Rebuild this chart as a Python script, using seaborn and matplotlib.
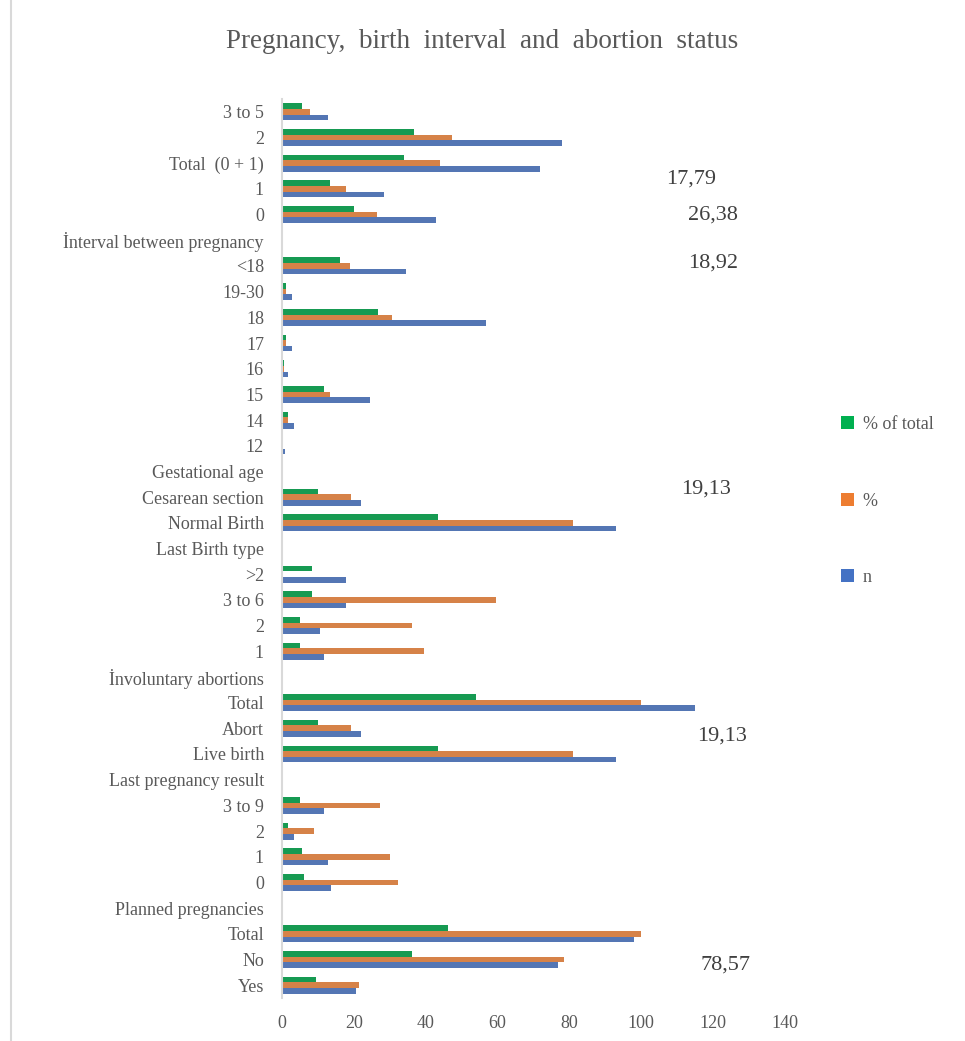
import matplotlib
matplotlib.use("Agg")
import matplotlib.pyplot as plt
from matplotlib.patches import Patch
from matplotlib.lines import Line2D
import numpy as np
import pandas as pd
import seaborn as sns

# categories, top to bottom (as drawn)
labels = ["3 to 5", "2", "Total  (0 + 1)", "1", "0", "İnterval between pregnancy",
          "<18", "19-30", "18", "17", "16", "15", "14", "12", "Gestational age",
          "Cesarean section", "Normal Birth", "Last Birth type",
          ">2", "3 to 6", "2", "1", "İnvoluntary abortions",
          "Total", "Abort", "Live birth", "Last pregnancy result",
          "3 to 9", "2", "1", "0", "Planned pregnancies",
          "Total", "No", "Yes"]

n_vals = [12.9, 78, 71.8, 28.4, 42.9, None,
          34.5, 2.9, 56.8, 2.9, 1.8, 24.6, 3.4, 0.7, None,
          22, 93, None,
          17.9, 17.9, 10.7, 11.8, None,
          115, 22, 93, None,
          11.8, 3.4, 12.9, 13.5, None,
          98, 76.9, 20.7]

pct_vals = [7.8, 47.4, 44.0, 17.8, 26.4, None,
            18.9, 1.1, 30.6, 1.1, 0.6, 13.4, 1.7, 0.3, None,
            19.13, 80.87, None,
            0, 59.6, 36.2, 39.6, None,
            100, 19.13, 80.87, None,
            27.3, 9.0, 30.1, 32.3, None,
            100, 78.57, 21.43]

pct_total_vals = [5.6, 36.8, 34.0, 13.4, 20.1, None,
                  16.2, 1.1, 26.8, 1.1, 0.6, 11.8, 1.7, 0.3, None,
                  10.1, 43.5, None,
                  8.4, 8.4, 5.1, 5.1, None,
                  54.0, 10.1, 43.5, None,
                  5.1, 1.7, 5.7, 6.2, None,
                  46.2, 36.2, 9.6]

series_names = ["% of total", "%", "n"]
series_colors = ["#00B050", "#ED7D31", "#4472C4"]

# stray data labels left in the chart: (text, x value, row index from top)
note_texts = ["17,79", "26,38", "18,92", "19,13", "19,13", "78,57"]
note_x = [114, 120, 120, 118, 122.5, 123.5]
note_row = [2.6, 4.0, 5.9, 14.7, 24.3, 33.2]

keys = ["r%d" % i for i in range(len(labels))]
df = pd.DataFrame({"row": keys, "% of total": pct_total_vals, "%": pct_vals, "n": n_vals})
df = df.melt(id_vars="row", var_name="series", value_name="value").dropna()

sns.set_style("white")
plt.rcParams["font.family"] = ["Liberation Serif", "DejaVu Serif"]

W, H = 965, 1041
fig = plt.figure(figsize=(W / 100, H / 100), dpi=100)
ax = fig.add_axes([282 / W, 1 - 998 / H, (785 - 282) / W, (998 - 99) / H])

sns.barplot(data=df, x="value", y="row", hue="series", order=keys,
            hue_order=series_names, palette=series_colors, orient="h",
            width=0.66, errorbar=None, legend=False, ax=ax, linewidth=0)

ax.set_xlim(0, 140)
ax.set_xticks(np.arange(0, 141, 20))
ax.set_yticks(range(len(labels)))
ax.set_yticklabels(labels)
ax.set_xlabel("")
ax.set_ylabel("")
ax.tick_params(axis="y", length=0, pad=13, labelsize=13, labelcolor="#595959")
ax.tick_params(axis="x", length=0, pad=12, labelsize=13, labelcolor="#595959")
for side in ["top", "right", "bottom"]:
    ax.spines[side].set_visible(False)
ax.spines["left"].set_color("#d9d9d9")
ax.spines["left"].set_linewidth(1.5)

for t, xv, r in zip(note_texts, note_x, note_row):
    ax.text(xv, r, t, ha="center", va="center", fontsize=16, color="#404040")

fig.text(0.5, 1 - 42 / H, "Pregnancy,  birth  interval  and  abortion  status",
         ha="center", va="center", fontsize=19.5, color="#595959")

handles = [Patch(facecolor=c, edgecolor="none", label=s) for s, c in zip(series_names, series_colors)]
fig.legend(handles=handles, loc="center left", bbox_to_anchor=(832 / W, 1 - 501 / H),
           frameon=False, fontsize=13, labelspacing=3.3, handlelength=0.7,
           handleheight=0.7, handletextpad=0.5, borderpad=0, labelcolor="#595959")

# chart area border (left edge visible in the screenshot)
fig.add_artist(Line2D([10.5 / W, 10.5 / W], [0, 1], transform=fig.transFigure,
                      color="#d9d9d9", linewidth=1.5))

fig.savefig("out.png", dpi=100)
